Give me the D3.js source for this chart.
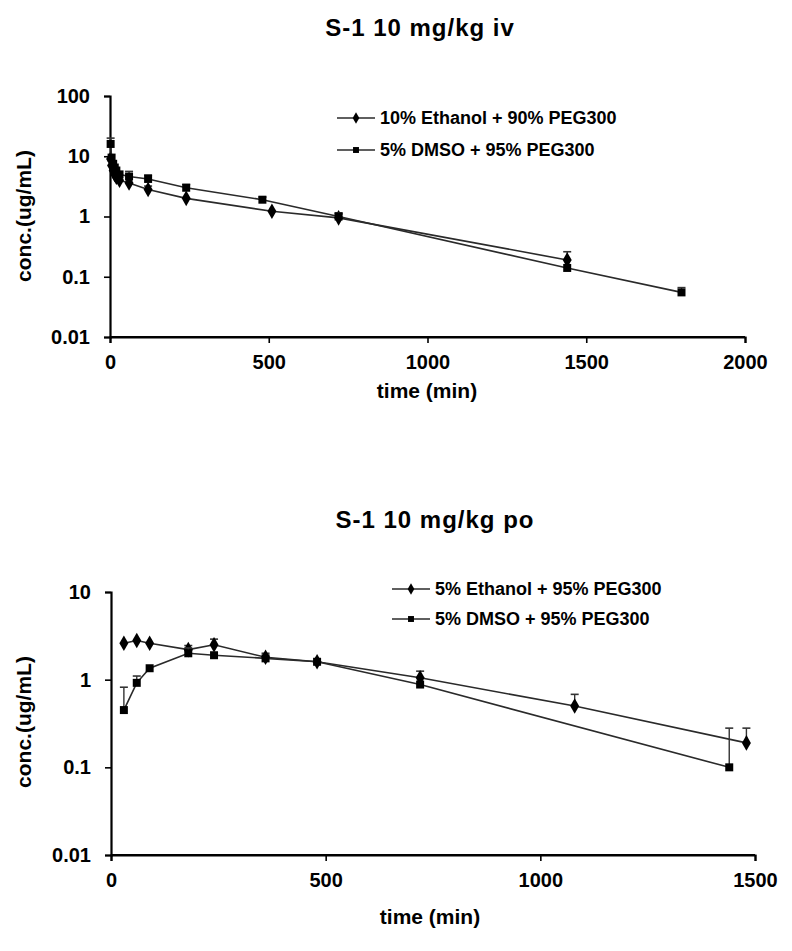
<!DOCTYPE html>
<html><head><meta charset="utf-8">
<script src="https://cdn.jsdelivr.net/npm/d3@7"></script>
<style>
body{margin:0;background:#fff;}
svg text{font-family:"Liberation Sans",Arial,sans-serif;font-weight:bold;fill:#000;}
</style></head>
<body><svg id="c" width="792" height="951"></svg>
<script>
// ---- Top chart: iv ----
const ivEthTime = [2,5,10,15,20,30,60,120,240,510,720,1440];
const ivEthConc = [9.0,7.0,5.8,5.0,4.5,4.0,3.6,2.8,2.0,1.22,0.95,0.19];
const ivEthErr  = [null,null,null,null,null,null,null,3.2,null,null,1.1,0.26];
const ivDmsoTime = [2,5,10,15,20,30,60,120,240,480,720,1440,1800];
const ivDmsoConc = [16,9.5,7.5,6.5,5.8,5.0,4.6,4.2,3.0,1.9,1.0,0.14,0.055];
const ivDmsoErr  = [20,null,null,null,null,null,5.6,4.9,3.4,2.1,1.15,null,0.066];
const ivXTicks = [0,500,1000,1500,2000];
const ivYTicks = [0.01,0.1,1,10,100];
const ivYTickLabels = ["0.01","0.1","1","10","100"];
const ivLegend = ["10% Ethanol + 90% PEG300","5% DMSO + 95% PEG300"];
const ivTitle = "S-1 10 mg/kg iv";

// ---- Bottom chart: po ----
const poEthTime = [30,60,90,180,240,360,480,720,1080,1480];
const poEthConc = [2.6,2.8,2.6,2.2,2.5,1.8,1.6,1.05,0.5,0.19];
const poEthErr  = [null,null,null,2.45,2.9,2.0,null,1.25,0.68,0.28];
const poDmsoTime = [30,60,90,180,240,360,480,720,1440];
const poDmsoConc = [0.45,0.92,1.35,2.0,1.9,1.75,1.6,0.88,0.1];
const poDmsoErr  = [0.82,1.1,null,2.3,null,null,null,null,0.28];
const poXTicks = [0,500,1000,1500];
const poYTicks = [0.01,0.1,1,10];
const poYTickLabels = ["0.01","0.1","1","10"];
const poLegend = ["5% Ethanol + 95% PEG300","5% DMSO + 95% PEG300"];
const poTitle = "S-1 10 mg/kg po";

const xLabel = "time (min)";
const yLabel = "conc.(ug/mL)";

const svg = d3.select("#c");

function drawChart(o){
  const g = svg.append("g");
  const x = d3.scaleLinear().domain(o.xDomain).range([o.left,o.right]);
  const y = d3.scaleLog().domain(o.yDomain).range([o.bottom,o.top]);

  // title
  g.append("text").attr("x",o.titleX).attr("y",o.titleY).attr("text-anchor","middle")
   .style("font-size","24px").style("letter-spacing","1px").text(o.title);

  // axes
  const xa = g.append("g").attr("transform",`translate(0,${o.bottom})`)
    .call(d3.axisBottom(x).tickValues(o.xTicks).tickFormat(d3.format("d")).tickSizeOuter(0).tickSize(6).tickPadding(12));
  const ya = g.append("g").attr("transform",`translate(${o.left},0)`)
    .call(d3.axisLeft(y).tickValues(o.yTicks).tickFormat((d,i)=>o.yTickLabels[i]).tickSizeOuter(0).tickSize(6).tickPadding(14));
  [xa,ya].forEach(a=>{
    a.select(".domain").attr("stroke","#000").attr("stroke-width",2.2);
    a.selectAll(".tick line").attr("stroke","#000").attr("stroke-width",1.6);
    a.selectAll(".tick text").style("font-size","20px").style("font-family",'"Liberation Sans",Arial,sans-serif').style("font-weight","bold");
  });
  g.append("line").attr("x1",o.left).attr("x2",o.right).attr("y1",o.bottom).attr("y2",o.bottom).attr("stroke","#000").attr("stroke-width",2.2);

  g.append("text").attr("x",o.xLabelX).attr("y",o.xLabelY).attr("text-anchor","middle")
   .style("font-size","21px").text(xLabel);
  g.append("text").attr("transform",`translate(${o.yLabelX},${o.yLabelY}) rotate(-90)`).attr("text-anchor","middle")
   .style("font-size","21px").text(yLabel);

  const line = d3.line().x(d=>x(d.t)).y(d=>y(d.c));
  o.series.forEach(s=>{
    const pts = s.t.map((t,i)=>({t, c:s.c[i], e:s.e[i]}));
    g.append("path").datum(pts).attr("d",line).attr("fill","none").attr("stroke","#2a2a2a").attr("stroke-width",1.6);
    // error bars (upper only)
    pts.filter(p=>p.e!=null).forEach(p=>{
      g.append("line").attr("x1",x(p.t)).attr("x2",x(p.t)).attr("y1",y(p.c)).attr("y2",y(p.e)).attr("stroke","#333").attr("stroke-width",1.4);
      g.append("line").attr("x1",x(p.t)-4).attr("x2",x(p.t)+4).attr("y1",y(p.e)).attr("y2",y(p.e)).attr("stroke","#333").attr("stroke-width",1.6);
    });
    g.selectAll(null).data(pts).enter().append("path")
      .attr("transform",p=>`translate(${x(p.t)},${y(p.c)})`)
      .attr("d",d3.symbol().type(s.sym).size(s.size)).attr("fill","#000");
  });

  // legend
  o.series.forEach((s,i)=>{
    const ly = o.legY + i*o.legGap;
    g.append("line").attr("x1",o.legX).attr("x2",o.legX+38).attr("y1",ly).attr("y2",ly).attr("stroke","#2a2a2a").attr("stroke-width",1.6);
    g.append("path").attr("transform",`translate(${o.legX+19},${ly})`)
      .attr("d",d3.symbol().type(s.sym).size(s.size*0.55)).attr("fill","#000");
    g.append("text").attr("x",o.legX+43).attr("y",ly+6).style("font-size","18px").text(o.legend[i]);
  });
}

drawChart({
  xDomain:[0,2000], yDomain:[0.01,100], left:110, right:745, top:96, bottom:337,
  xTicks:ivXTicks, yTicks:ivYTicks, yTickLabels:ivYTickLabels,
  title:ivTitle, titleX:420, titleY:36,
  xLabelX:427, xLabelY:398, yLabelX:31, yLabelY:216,
  legX:337, legY:118, legGap:32, legend:ivLegend,
  series:[
    {t:ivEthTime,c:ivEthConc,e:ivEthErr,sym:d3.symbolDiamond,size:70},
    {t:ivDmsoTime,c:ivDmsoConc,e:ivDmsoErr,sym:d3.symbolSquare,size:64}
  ]
});
drawChart({
  xDomain:[0,1500], yDomain:[0.01,10], left:111, right:755, top:592, bottom:855,
  xTicks:poXTicks, yTicks:poYTicks, yTickLabels:poYTickLabels,
  title:poTitle, titleX:435, titleY:528,
  xLabelX:430, xLabelY:924, yLabelX:31, yLabelY:722,
  legX:392, legY:589, legGap:30, legend:poLegend,
  series:[
    {t:poEthTime,c:poEthConc,e:poEthErr,sym:d3.symbolDiamond,size:70},
    {t:poDmsoTime,c:poDmsoConc,e:poDmsoErr,sym:d3.symbolSquare,size:64}
  ]
});
</script></body></html>
